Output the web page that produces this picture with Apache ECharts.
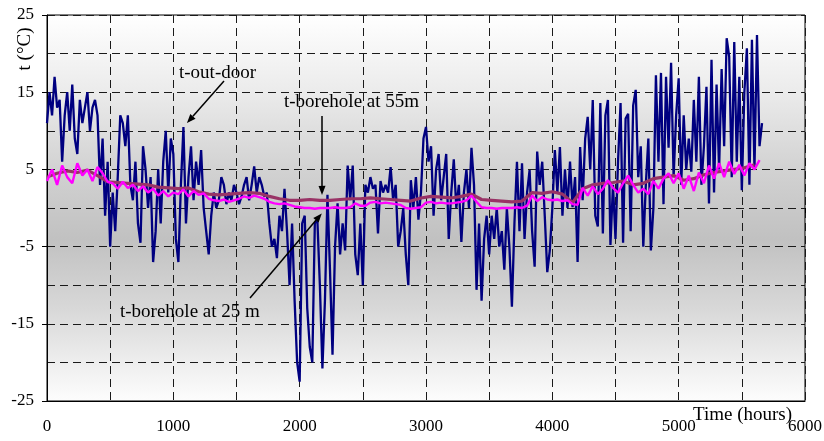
<!DOCTYPE html>
<html>
<head>
<meta charset="utf-8">
<script src="https://cdn.jsdelivr.net/npm/echarts@6/dist/echarts.min.js"></script>
<style>
  html, body { margin: 0; padding: 0; background: #fff; }
  #chart { width: 824px; height: 441px; }
</style>
</head>
<body>
<div id="chart"></div>
<script>
// Sampling intervals (hours) of the three logged series
const OUT_STEP = 20;
const BH25_STEP = 40;
const BH55_STEP = 80;

// Outdoor air temperature, °C, one value every 20 h from hour 0
const outdoorTemp = [
  11, 15, 12, 17, 13,        // 0
  14, 6, 12, 15, 10,         // 100
  16, 9, 7, 14, 11,          // 200
  13, 15, 10, 13, 14,        // 300
  12, 3, 9, -1, 6,           // 400
  -5, 2, -3, 4, 12,          // 500
  11, 8, 12, 3, 1,           // 600
  6, -2, -4.5, 8, 5,         // 700
  0, 4, -7, -3, 5,           // 800
  -2, 6, 10, 2, 9,           // 900
  7, -4, -7, 3, 10.5,        // 1000
  -2, 4, 8, 1, 6,            // 1100
  3, 7.5, 0, -3, -6,         // 1200
  -1, 2, 0, 1, 4,            // 1300
  3, 0.5, 2, 1, 3,           // 1400
  2, 0.5, 1.5, 3, 4,         // 1500
  1, 3, 5.4, 2, 4,           // 1600
  3, 1.5, 2, -2, -5,         // 1700
  -4, -6.5, -1, -3, 2.5,     // 1800
  -3, -10, -2, -12, -20,     // 1900
  -22.5, -2, -1, -13, -18,   // 2000
  -20, -2, -1.5, -10, -20.8, // 2100
  -12, 1.7, -8, -19, -5,     // 2200
  0.6, -6, -2, -5.5, 5.5,    // 2300
  1, 5.5, -6, -8.7, -2,      // 2400
  -10, 3, 2, 4, 2.5,         // 2500
  3, -3.3, 3.5, 2, 3,        // 2600
  2, 5.3, 1, 3, -5,          // 2700
  -3, 0, -6, -10, 3.6,       // 2800
  0, 4, -1.5, 2, 9,          // 2900
  10.5, 6, 8, -1, 5,         // 3000
  7, 1, 4, 7, -4,            // 3100
  2, 6.3, 0, 3, -4.4,        // 3200
  2, 5, 0, 7.8, 3,           // 3300
  -10.6, -2, -12, -4, -1,    // 3400
  -6, -1, -4, 0, -5,         // 3500
  -3, -8, 0, -5, -12.8,      // 3600
  -2, 6, -3, 5.8, -4,        // 3700
  2, 4.9, -3, -7.6, 7.3,     // 3800
  3, 6, -1, -8.3, -5.5,      // 3900
  0, 7.5, 2, 7.9, -1,        // 4000
  5, 0, 6, 0.1, 4,           // 4100
  -7, 7.9, 1, 9, 11.8,       // 4200
  5, 14, -1, -2.4, 13.6,     // 4300
  -3.3, 12, 14, -4.8, 3,     // 4400
  -4, 6, 13.6, -4.5, 11.6,   // 4500
  12.2, -3, 13.3, 15.3, 4,   // 4600
  8, -5, 3, 9, -5.5,         // 4700
  0, 17.2, 6, 17.5, 0.5,     // 4800
  17, 7.8, 18.8, 4, 12,      // 4900
  16.8, 3, 12, 5, 9,         // 5000
  4.7, 14, 6, 17, 3,         // 5100
  8, 15.7, 0.6, 19.2, 2,     // 5200
  16, 5, 18, 8, 22,          // 5300
  19.6, 4, 21.5, 6, 17,      // 5400
  2.3, 15, 20.7, 3, 21.8,    // 5500
  5, 22.4, 8, 11             // 5600
];

// Borehole temperature at 25 m depth, °C, every 40 h
const borehole25Temp = [
  3.5, 5, 3, 5.5, 4, 3.2, 5.8, 4.2, 5, 3.5, 5.3, 4.5, 3.4,
  3.2, 2.5, 3.4, 2.6, 3, 2.2, 2.8, 2, 2.5, 1.6, 2.2, 1.5, 2,
  1.8, 2.4, 1.5, 2.2, 1.7, 1.9, 1.2, 1, 0.9, 1.1, 0.8, 1,
  1.2, 1.5, 1.3, 1.6, 1.4, 1.2, 0.8, 0.6, 0.5, 0.6, 0.4, 0.2, 0.1,
  0, 0, -0.1, 0, 0, 0, 0.1, 0, 0, 0.1, 0.6, 0.3,
  0.3, 0.7, 0.8, 0.6, 0.7, 0.6, 0.5, 0.4, 0, -0.1, 0, 0.1,
  0.7, 0.8, 0.6, 0.7, 0.6, 0.6, 0.7, 0.8, 1.0, 1.6, 0.8, 0.1, 0.0,
  0, -0.1, 0, 0, 0, 0.1, 0, 0.3, 1.6, 0.9, 1.4, 1.1,
  1, 1.1, 0.9, 1, 0.5, 0.4, 2.6, 1.6, 2.8, 1.8, 2.5, 3.6, 2.6,
  2, 3.2, 4.2, 3, 2, 2.5, 1.8, 3.5, 2.5, 3.8, 4.5, 3.2,
  4.5, 2.5, 4.2, 2.2, 4.6, 3.2, 5.5, 3.8, 5.8, 4, 6, 4.4, 5.6,
  4.2, 5.8, 5, 6.2
];

// Borehole temperature at 55 m depth, °C, every 80 h
const borehole55Temp = [
  4, 4.5, 4.8, 4.6, 4.9, 4.2,
  3.4, 3.3, 3.2, 3.1, 3, 2.7, 2.6,
  2.5, 2.6, 2.1, 1.8, 1.7, 1.8, 1.9,
  2, 1.9, 1.5, 1.2, 1, 1, 1.1,
  1, 1, 1.1, 1.2, 1.2, 1.3, 1.2,
  1.1, 1, 0.9, 1.3, 1.5, 1.4, 1.3,
  1.5, 1.8, 1.1, 1, 0.9, 0.8, 0.9,
  2, 1.9, 2.1, 1.8, 0.7, 2.5, 3,
  3.2, 3.3, 3.5, 3, 3.2, 3.8, 4,
  4.2, 3.6, 3.8, 4.3, 4.6, 4.8, 5,
  5.2, 5.6
];

// Labelled axis values
const xLabelValues = [0, 1000, 2000, 3000, 4000, 5000, 6000];
const yLabelValues = [-25, -15, -5, 5, 15, 25];

const toPairs = (values, step) => values.map((v, i) => [i * step, v]);

const SERIF = '"Liberation Serif", "Times New Roman", serif';
const plain = v => String(v);

const chart = echarts.init(document.getElementById('chart'), null, { renderer: 'canvas' });

const gridLine = { show: true, lineStyle: { color: '#1a1a1a', width: 1, type: [8, 5] } };
const axisBlack = { show: true, onZero: false, lineStyle: { color: '#000', width: 1 } };

const option = {
  animation: false,
  backgroundColor: '#ffffff',
  grid: {
    left: 47, top: 15, right: 19, bottom: 40,
    outerBoundsMode: 'none',
    show: true,
    borderColor: '#000',
    borderWidth: 1,
    backgroundColor: new echarts.graphic.LinearGradient(0, 0, 0, 1, [
      { offset: 0, color: '#ffffff' },
      { offset: 0.2, color: '#ebebeb' },
      { offset: 0.4, color: '#d2d2d2' },
      { offset: 0.58, color: '#c1c1c1' },
      { offset: 0.76, color: '#d8d8d8' },
      { offset: 0.9, color: '#eeeeee' },
      { offset: 1, color: '#fdfdfd' }
    ])
  },
  xAxis: [
    {
      // dashed grid every 500 h, labels every 1000 h
      type: 'value', position: 'bottom',
      min: 0, max: 6000, interval: 500,
      axisLine: axisBlack,
      axisTick: { show: false },
      axisLabel: {
        customValues: xLabelValues, formatter: plain,
        fontFamily: SERIF, fontSize: 17, color: '#000', margin: 17
      },
      splitLine: gridLine
    },
    {
      // tick marks at labelled hours only
      type: 'value', position: 'bottom', offset: 0,
      min: 0, max: 6000, interval: 1000,
      axisLine: { show: false },
      axisTick: { show: true, customValues: xLabelValues, length: 5, lineStyle: { color: '#000' } },
      axisLabel: { show: false },
      splitLine: { show: false }
    }
  ],
  yAxis: [
    {
      type: 'value', position: 'left',
      min: -25, max: 25, interval: 5,
      axisLine: axisBlack,
      axisTick: { show: false },
      axisLabel: {
        customValues: yLabelValues, formatter: plain,
        fontFamily: SERIF, fontSize: 17, color: '#000', margin: 13
      },
      splitLine: gridLine
    },
    {
      type: 'value', position: 'left', offset: 0,
      min: -25, max: 25, interval: 5,
      axisLine: { show: false },
      axisTick: { show: true, customValues: yLabelValues, length: 5, lineStyle: { color: '#000' } },
      axisLabel: { show: false },
      splitLine: { show: false }
    }
  ],
  series: [
    {
      name: 't-out-door', type: 'line', symbol: 'none',
      data: toPairs(outdoorTemp, OUT_STEP),
      lineStyle: { color: '#000080', width: 2.3 },
      z: 2
    },
    {
      name: 't-borehole at 55m', type: 'line', symbol: 'none',
      data: toPairs(borehole55Temp, BH55_STEP),
      lineStyle: { color: '#993366', width: 3.2 },
      z: 3
    },
    {
      name: 't-borehole at 25 m', type: 'line', symbol: 'none',
      data: toPairs(borehole25Temp, BH25_STEP),
      lineStyle: { color: '#ff00ff', width: 2.4 },
      z: 4
    }
  ]
};

chart.setOption(option);

// Annotation arrows: tail in pixels, tip anchored to a data point (hours, °C)
const annotations = [
  { text: 't-out-door', tx: 179, ty: 73, tail: [224, 81], tip: [1108, 11.0] },
  { text: 't-borehole at 55m', tx: 284, ty: 102, tail: [322, 116], tip: [2177, 1.7] },
  { text: 't-borehole at 25 m', tx: 120, ty: 312, tail: [250, 298], tip: [2175, -0.7] }
];

function arrow(tail, tip) {
  const dx = tip[0] - tail[0], dy = tip[1] - tail[1];
  const len = Math.sqrt(dx * dx + dy * dy);
  const ux = dx / len, uy = dy / len;
  const head = 9, half = 3.5;
  const bx = tip[0] - ux * head, by = tip[1] - uy * head;
  return [
    { type: 'line', z: 100, shape: { x1: tail[0], y1: tail[1], x2: bx, y2: by },
      style: { stroke: '#000', lineWidth: 1.5 } },
    { type: 'polygon', z: 100, shape: { points: [
        [tip[0], tip[1]],
        [bx - uy * half, by + ux * half],
        [bx + uy * half, by - ux * half]
      ] }, style: { fill: '#000' } }
  ];
}

const graphics = [];
annotations.forEach(a => {
  const tipPx = chart.convertToPixel({ gridIndex: 0 }, a.tip);
  graphics.push(...arrow(a.tail, tipPx));
  graphics.push({
    type: 'text', z: 100, x: a.tx, y: a.ty,
    style: { text: a.text, font: '19px ' + SERIF, fill: '#000', textAlign: 'left', textVerticalAlign: 'middle' }
  });
});

// Axis titles
graphics.push({
  type: 'text', z: 100, x: 25, y: 49, rotation: Math.PI / 2,
  style: { text: 't (°C)', font: '19px ' + SERIF, fill: '#000', textAlign: 'center', textVerticalAlign: 'middle' }
});
graphics.push({
  type: 'text', z: 100, x: 693, y: 415,
  style: { text: 'Time (hours)', font: '19px ' + SERIF, fill: '#000', textAlign: 'left', textVerticalAlign: 'middle' }
});

chart.setOption({ graphic: { elements: graphics } });
</script>
</body>
</html>
